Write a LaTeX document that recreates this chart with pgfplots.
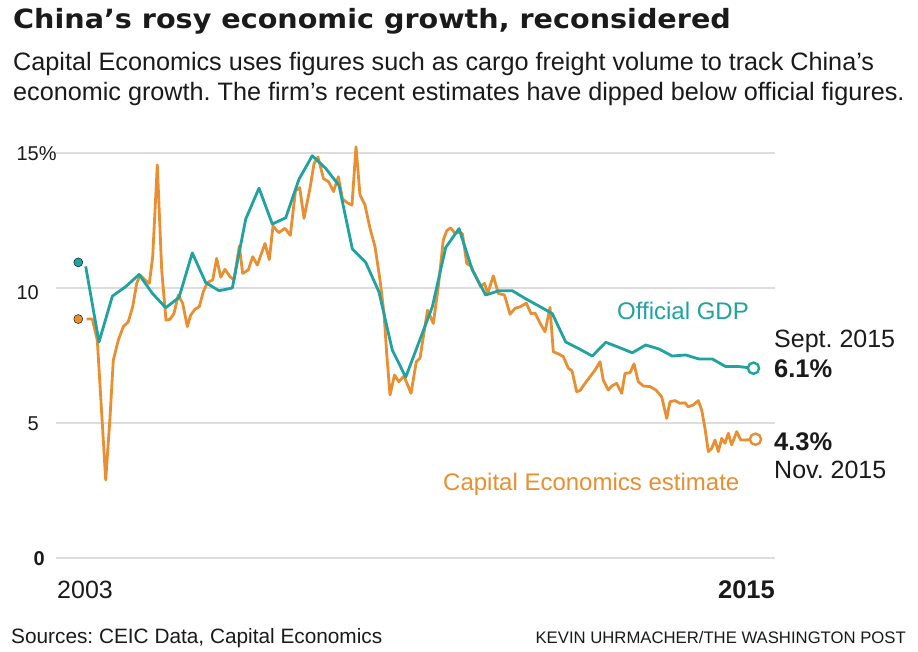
\documentclass[border=0pt]{standalone}
\usepackage{pgfplots}
\pgfplotsset{compat=1.18}
\usepackage{fontspec}
\setmainfont{Liberation Sans}
\newfontfamily\titlefont{DejaVu Sans}[FakeStretch=1.08]
\definecolor{gdpcol}{HTML}{1FA3A0}
\definecolor{cecol}{HTML}{E98F31}
\definecolor{gridcol}{HTML}{DDDDDD}
\definecolor{zerocol}{HTML}{A8A8A8}
\definecolor{txt}{HTML}{1A1A1A}
\frenchspacing
\begin{document}
\begin{tikzpicture}[x=1pt,y=1pt]
\useasboundingbox (0,0) rectangle (918,-652);
\fill[white] (0,0) rectangle (918,-652);
% titles
\node[anchor=base west, inner sep=0pt, text=txt] at (13,-28.3) {\titlefont\bfseries\fontsize{26.5}{30}\selectfont China’s rosy economic growth, reconsidered};
\node[anchor=base west, inner sep=0pt, text=txt] at (13,-70.5) {\fontsize{25.2}{30}\selectfont Capital Economics uses figures such as cargo freight volume to track China’s};
\node[anchor=base west, inner sep=0pt, text=txt] at (13,-100.5) {\fontsize{25.2}{30}\selectfont economic growth. The firm’s recent estimates have dipped below official figures.};

\begin{axis}[at={(56pt,-558pt)}, anchor=south west, scale only axis,
  width=719pt, height=405pt, xmin=56, xmax=775, ymin=0, ymax=15,
  clip=false, axis line style={draw=none}, xtick=\empty,
  ytick={5,10,15}, yticklabels={}, ymajorgrids,
  major grid style={gridcol, line width=1.4pt},
  extra y ticks={0}, extra y tick labels={}, extra y tick style={grid style={zerocol, line width=2.2pt}},
  major tick length=0pt, tick style={draw=none}]
% Capital Economics estimate (monthly)
\addplot[cecol, line width=2.8pt, line join=round] coordinates {
(86.7,8.85) (92.3,8.85) (97.3,8.07) (105.7,2.89) (110.0,5.2) (113.3,7.33) (118.3,8.07)
(123.3,8.57) (128.3,8.75) (132.7,9.31) (136.7,10.17) (140.0,10.48) (145.0,10.3)
(149.3,10.17) (152.7,11.16) (157.3,14.56) (161.7,10.67) (166.0,8.81) (170.0,8.84)
(174.0,9.06) (178.3,9.74) (182.7,9.43) (187.3,8.57) (190.7,9.0) (195.0,9.21)
(199.3,9.31) (203.3,9.86) (207.3,10.2) (212.7,10.3) (216.7,11.1) (220.7,10.4)
(225.0,10.69) (230.0,10.42) (234.0,10.3) (239.3,11.55) (242.7,10.54) (248.3,10.67)
(252.7,11.16) (257.3,10.85) (265.0,11.65) (269.3,11.05) (273.0,12.3) (278.7,12.05)
(285.0,12.21) (290.3,11.95) (295.5,13.6) (299.7,13.72) (304.0,12.58) (310.0,13.7)
(314.0,14.6) (318.0,14.85) (323.5,14.05) (328.5,13.94) (333.5,13.57) (338.3,14.12)
(342.5,13.3) (347.5,13.15) (352.0,13.07) (356.0,15.23) (360.0,13.44) (365.0,13.07)
(370.0,12.21) (375.0,11.53) (380.0,10.3) (384.0,9.06) (386.7,7.58) (390.0,6.04)
(394.5,6.78) (398.8,6.53) (404.0,6.74) (411.0,6.1) (416.3,7.27) (420.0,7.4)
(427.5,9.18) (433.3,8.69) (438.3,10.05) (443.3,11.78) (446.7,12.12) (450.5,12.23)
(455.0,12.03) (460.0,12.07) (462.5,12.0) (466.7,10.91) (470.7,10.82) (475.5,10.45)
(480.5,10.05) (484.5,10.17) (487.7,9.8) (493.3,10.45) (498.3,9.8) (504.5,9.74)
(510.0,9.03) (515.0,9.25) (520.0,9.3) (526.3,9.44) (531.0,9.05) (535.0,9.07)
(540.0,8.7) (545.0,8.38) (550.0,9.28) (553.3,7.64) (558.3,7.56) (563.3,7.46)
(568.3,7.03) (572.0,6.93) (576.7,6.16) (580.0,6.2) (585.0,6.47) (590.0,6.71)
(595.0,6.96) (600.0,7.27) (603.3,6.59) (608.3,6.22) (611.7,6.37) (616.7,6.47)
(621.7,6.1) (625.0,6.84) (630.0,6.86) (634.0,7.19) (638.3,6.53) (643.3,6.37)
(650.0,6.35) (656.0,6.22) (661.7,5.97) (666.7,5.17) (670.0,5.79) (675.0,5.83)
(680.0,5.73) (685.0,5.75) (688.3,5.6) (693.3,5.67) (698.3,5.83) (701.7,5.48)
(705.0,4.8) (708.3,3.94) (711.7,4.06) (715.0,4.37) (718.3,3.94) (721.7,4.43)
(725.0,4.25) (728.3,4.62) (731.7,4.19) (736.7,4.68) (740.7,4.37) (745.0,4.37)
(755.0,4.4)};
% Official GDP (quarterly)
\addplot[gdpcol, line width=2.8pt, line join=round] coordinates {
(85.7,10.8) (99.0,8.0) (112.4,9.7) (125.7,10.05) (139.0,10.5) (152.4,9.8)
(165.7,9.27) (179.0,9.65) (192.3,11.3) (205.7,10.2) (219.0,9.9) (232.3,10.0)
(245.7,12.55) (259.0,13.7) (272.3,12.37) (285.7,12.6) (299.0,14.03) (312.3,14.9)
(325.7,14.43) (339.0,13.8) (352.3,11.45) (365.7,10.95) (379.0,9.85) (392.3,7.7)
(405.7,6.7) (419.0,8.0) (432.3,9.3) (445.7,11.5) (459.0,12.2) (472.3,10.67)
(485.7,9.74) (499.0,9.9) (512.3,9.9) (525.7,9.6) (539.0,9.33) (552.3,9.05)
(565.7,8.0) (579.0,7.75) (592.3,7.48) (605.7,7.99) (619.0,7.8) (632.3,7.6)
(645.7,7.89) (659.0,7.74) (672.3,7.48) (685.7,7.52) (699.0,7.37) (712.3,7.37)
(725.7,7.09) (739.0,7.09) (752.3,7.03)};
% start dots
\addplot[only marks, mark=*, mark size=4.5pt, mark options={fill=gdpcol, draw=none}] coordinates {(78.3,10.95)};
\addplot[only marks, mark=*, mark size=4.5pt, mark options={fill=cecol, draw=none}] coordinates {(78.3,8.85)};
% end circles
\addplot[only marks, mark=*, mark size=5.6pt, mark options={fill=white, draw=gdpcol, line width=2.4pt}] coordinates {(753.5,7.03)};
\addplot[only marks, mark=*, mark size=5.6pt, mark options={fill=white, draw=cecol, line width=2.4pt}] coordinates {(755.5,4.4)};
\end{axis}

% y tick labels
\node[anchor=base east, inner sep=0pt, text=txt] at (39,-161) {\fontsize{20}{24}\selectfont 15\rlap{\%}};
\node[anchor=base east, inner sep=0pt, text=txt] at (39,-300) {\fontsize{20}{24}\selectfont 10};
\node[anchor=base east, inner sep=0pt, text=txt] at (39,-430) {\fontsize{20}{24}\selectfont 5};
\node[anchor=base east, inner sep=0pt, text=txt] at (45,-565) {\fontsize{20}{24}\selectfont\bfseries 0};
% x labels
\node[anchor=base west, inner sep=0pt, text=txt] at (57,-598) {\fontsize{25}{30}\selectfont 2003};
\node[anchor=base east, inner sep=0pt, text=txt] at (775,-598) {\fontsize{25.5}{30}\selectfont\bfseries 2015};
% series labels
\node[anchor=base west, inner sep=0pt, text=gdpcol] at (617,-319.5) {\fontsize{24}{28}\selectfont Official GDP};
\node[anchor=base west, inner sep=0pt, text=cecol] at (443,-490) {\fontsize{24}{28}\selectfont Capital Economics estimate};
% end annotations
\node[anchor=base west, inner sep=0pt, text=txt] at (774,-347.5) {\fontsize{25}{30}\selectfont Sept. 2015};
\node[anchor=base west, inner sep=0pt, text=txt] at (774,-377) {\fontsize{25.5}{30}\selectfont\bfseries 6.1\%};
\node[anchor=base west, inner sep=0pt, text=txt] at (774,-450) {\fontsize{25.5}{30}\selectfont\bfseries 4.3\%};
\node[anchor=base west, inner sep=0pt, text=txt] at (774,-478) {\fontsize{25}{30}\selectfont Nov. 2015};
% footer
\node[anchor=base west, inner sep=0pt, text=txt] at (11,-643) {\fontsize{20.8}{24}\selectfont Sources: CEIC Data, Capital Economics};
\node[anchor=base east, inner sep=0pt, text=txt] at (906,-643) {\fontsize{16.7}{20}\selectfont KEVIN UHRMACHER/THE WASHINGTON POST};
\end{tikzpicture}
\end{document}
